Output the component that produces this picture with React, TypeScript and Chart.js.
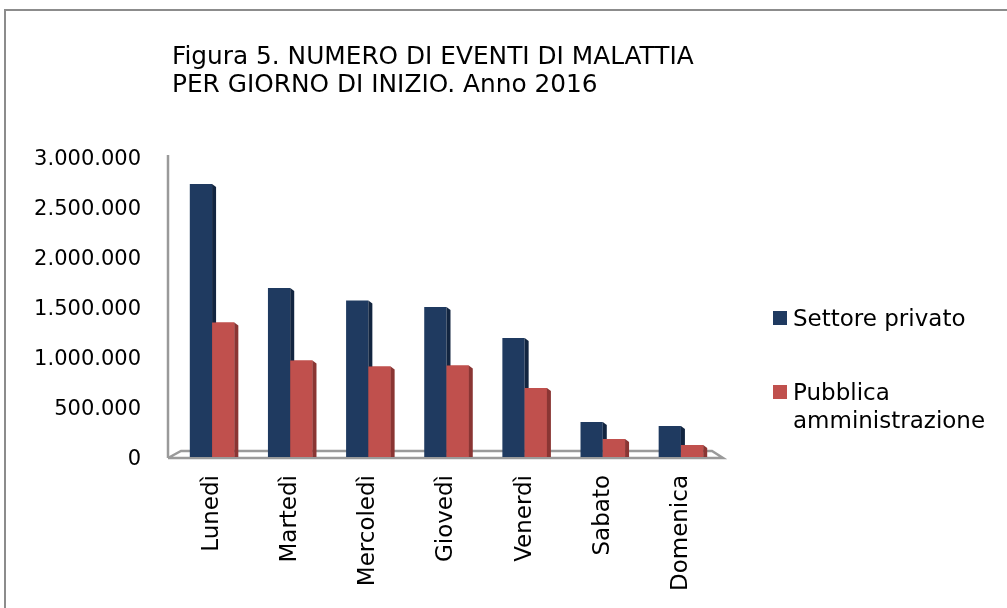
import React, { useEffect, useRef } from "react";
import { Chart, registerables } from "chart.js";

Chart.register(...registerables);

const titleLines = ["Figura 5. NUMERO DI EVENTI DI MALATTIA", "PER GIORNO DI INIZIO. Anno 2016"];
const categories = ["Lunedì", "Martedì", "Mercoledì", "Giovedì", "Venerdì", "Sabato", "Domenica"];
const seriesNames = ["Settore privato", "Pubblica amministrazione"];
const privato = [2730000, 1690000, 1565000, 1500000, 1190000, 350000, 310000];
const pubblica = [1345000, 965000, 905000, 915000, 690000, 180000, 120000];
const yTicks = [0, 500000, 1000000, 1500000, 2000000, 2500000, 3000000];

const FONT = "'DejaVu Sans', Verdana, sans-serif";
const BLUE = "#1F3A60";
const BLUE_SIDE = "#122540";
const RED = "#C0504D";
const RED_SIDE = "#8A3533";

const fmt = (v: number) => String(Math.round(v)).replace(/\B(?=(\d{3})+(?!\d))/g, ".");

const decorPlugin = {
  id: "decor",
  beforeDraw(chart: any) {
    const ctx = chart.ctx;
    ctx.save();
    ctx.fillStyle = "#ffffff";
    ctx.fillRect(0, 0, chart.width, chart.height);
    // outer frame
    ctx.strokeStyle = "#8c8c8c";
    ctx.lineWidth = 2;
    ctx.beginPath();
    ctx.moveTo(5, chart.height);
    ctx.lineTo(5, 10);
    ctx.lineTo(chart.width, 10);
    ctx.stroke();
    // title
    ctx.fillStyle = "#000";
    ctx.font = `24.8px ${FONT}`;
    ctx.textBaseline = "alphabetic";
    ctx.textAlign = "left";
    titleLines.forEach((t, i) => ctx.fillText(t, 172, 64 + i * 28));
    ctx.restore();
  },
  beforeDatasetsDraw(chart: any) {
    const ctx = chart.ctx;
    const a = chart.chartArea;
    const y0 = chart.scales.y.getPixelForValue(0);
    const yTop = chart.scales.y.getPixelForValue(3000000);
    ctx.save();
    ctx.strokeStyle = "#9a9a9a";
    ctx.lineWidth = 2.5;
    // vertical axis
    ctx.beginPath();
    ctx.moveTo(168, yTop - 2);
    ctx.lineTo(168, y0 + 1);
    ctx.stroke();
    // floor
    ctx.beginPath();
    ctx.moveTo(168, y0 + 1);
    ctx.lineTo(a.right + 3, y0 + 1);
    ctx.lineTo(a.right - 8, y0 - 6);
    ctx.lineTo(181, y0 - 6);
    ctx.lineTo(168, y0 + 1);
    ctx.stroke();
    ctx.restore();
  },
  afterDatasetsDraw(chart: any) {
    const ctx = chart.ctx;
    const m0 = chart.getDatasetMeta(0).data;
    const m1 = chart.getDatasetMeta(1).data;
    const d = 4;
    const side = (el: any, color: string) => {
      const r = el.x + el.width / 2;
      ctx.fillStyle = color;
      ctx.beginPath();
      ctx.moveTo(r, el.y);
      ctx.lineTo(r + d, el.y + 3);
      ctx.lineTo(r + d, el.base);
      ctx.lineTo(r, el.base);
      ctx.closePath();
      ctx.fill();
    };
    ctx.save();
    for (let i = 0; i < m0.length; i++) {
      side(m0[i], BLUE_SIDE);
      const e = m1[i];
      ctx.fillStyle = RED;
      ctx.fillRect(e.x - e.width / 2, e.y, e.width, e.base - e.y);
      side(e, RED_SIDE);
    }
    ctx.restore();
  },
  afterDraw(chart: any) {
    const ctx = chart.ctx;
    ctx.save();
    ctx.font = `23px ${FONT}`;
    ctx.textAlign = "left";
    ctx.textBaseline = "alphabetic";
    const x = 773;
    const maxW = 210;
    const starts = [326, 400];
    chart.data.datasets.forEach((ds: any, i: number) => {
      const words = String(ds.label).split(" ");
      const lines: string[] = [];
      let cur = "";
      words.forEach((w) => {
        const t = cur ? cur + " " + w : w;
        if (ctx.measureText(t).width > maxW && cur) {
          lines.push(cur);
          cur = w;
        } else cur = t;
      });
      if (cur) lines.push(cur);
      const base = starts[i];
      ctx.fillStyle = ds.backgroundColor;
      ctx.fillRect(x, base - 15, 14, 14);
      ctx.fillStyle = "#000";
      lines.forEach((l, j) => ctx.fillText(l, x + 20, base + j * 28));
    });
    ctx.restore();
  },
};

export default function App() {
  const ref = useRef<HTMLCanvasElement | null>(null);
  useEffect(() => {
    document.body.style.margin = "0";
    const chart = new Chart(ref.current as HTMLCanvasElement, {
      type: "bar",
      data: {
        labels: categories,
        datasets: [
          { label: seriesNames[0], data: privato, backgroundColor: BLUE, categoryPercentage: 0.57, barPercentage: 1 },
          { label: seriesNames[1], data: pubblica, backgroundColor: RED, categoryPercentage: 0.57, barPercentage: 1 },
        ],
      },
      options: {
        responsive: false,
        animation: false,
        layout: { padding: { top: 157, right: 287, left: 0, bottom: 0 } },
        plugins: { legend: { display: false }, title: { display: false }, tooltip: { enabled: false } },
        scales: {
          x: {
            grid: { display: false, drawTicks: false },
            border: { display: false },
            ticks: {
              autoSkip: false,
              minRotation: 90,
              maxRotation: 90,
              padding: 18,
              color: "#000",
              font: { family: FONT, size: 23 },
            },
            afterFit(scale: any) {
              scale.height = 151;
            },
          },
          y: {
            min: 0,
            max: 3000000,
            grid: { display: false, drawTicks: false },
            border: { display: false },
            afterBuildTicks(scale: any) {
              scale.ticks = yTicks.map((v) => ({ value: v }));
            },
            ticks: {
              padding: 32,
              labelOffset: 3,
              color: "#000",
              font: { family: FONT, size: 21 },
              callback: (v: any) => fmt(Number(v)),
            },
            afterFit(scale: any) {
              scale.width = 173;
            },
          },
        },
      },
      plugins: [decorPlugin],
    });
    return () => chart.destroy();
  }, []);
  return <canvas ref={ref} width={1007} height={608} style={{ display: "block" }} />;
}
